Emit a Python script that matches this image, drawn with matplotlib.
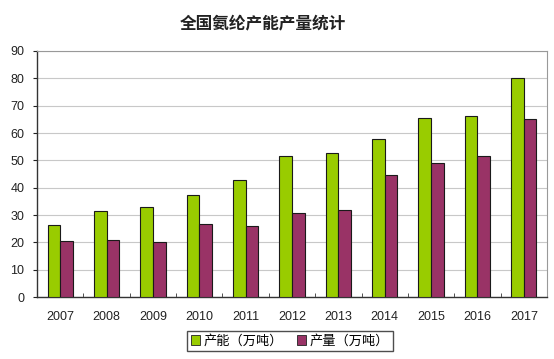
import matplotlib
matplotlib.use("Agg")
import matplotlib.pyplot as plt
import numpy as np
from matplotlib.patches import Patch

plt.rcParams['font.family'] = ['Liberation Sans', 'Noto Sans CJK SC', 'DejaVu Sans']

years = ['2007', '2008', '2009', '2010', '2011', '2012', '2013', '2014', '2015', '2016', '2017']
capacity = [26.3, 31.3, 33.0, 37.3, 42.9, 51.5, 52.6, 57.8, 65.4, 66.1, 80.1]
output = [20.6, 20.9, 20.2, 26.8, 26.1, 30.8, 31.9, 44.8, 49.0, 51.5, 65.0]
series_names = ['产能（万吨）', '产量（万吨）']

green = '#99CC00'
red = '#993366'

fig = plt.figure(figsize=(5.54, 3.59), dpi=100)
ax = fig.add_axes([37/554, 1-297/359, 510/554, 246/359])

x = np.arange(len(years))
w = 0.272
ax.bar(x - w/2, capacity, w, color=green, edgecolor='#1a1a1a', linewidth=0.8, zorder=3)
ax.bar(x + w/2, output, w, color=red, edgecolor='#1a1a1a', linewidth=0.8, zorder=3)

ax.set_xlim(-0.5, len(years) - 0.5)
ax.set_ylim(0, 90)
ax.set_yticks(range(0, 91, 10))
ax.yaxis.grid(True, color='#c8c8c8', linewidth=0.8, zorder=0)
ax.set_xticks(x)
ax.set_xticklabels(years)
ax.set_xticks(np.arange(-0.5, len(years)), minor=True)
ax.tick_params(axis='x', which='major', length=0, labelsize=9, pad=10, colors='#222222')
ax.tick_params(axis='x', which='minor', length=3, direction='in', color='#333333')
ax.tick_params(axis='y', length=3, direction='out', labelsize=9, colors='#222222', pad=6)

for s in ['left', 'bottom']:
    ax.spines[s].set_color('#333333')
    ax.spines[s].set_linewidth(1.0)
for s in ['top', 'right']:
    ax.spines[s].set_color('#999999')
    ax.spines[s].set_linewidth(0.8)

fig.text(263/554, 1-23/359, '全国氨纶产能产量统计', ha='center', va='center',
         fontsize=12, fontweight='bold', family=['Noto Sans CJK SC', 'DejaVu Sans'], color='#222222')

handles = [Patch(facecolor=green, edgecolor='#222222', linewidth=0.6),
           Patch(facecolor=red, edgecolor='#222222', linewidth=0.6)]
leg = fig.legend(handles, series_names, loc='center', bbox_to_anchor=(290/554, 1-341/359),
                 ncol=2, frameon=True, fancybox=False,
                 prop={'family': ['Noto Sans CJK SC', 'DejaVu Sans'], 'size': 9.5},
                 handlelength=0.7, handleheight=0.7, handletextpad=0.3, columnspacing=1.0,
                 borderpad=0.25, borderaxespad=0)
leg.get_frame().set_edgecolor('#222222')
leg.get_frame().set_linewidth(1.0)

fig.savefig('out.png', dpi=100)
